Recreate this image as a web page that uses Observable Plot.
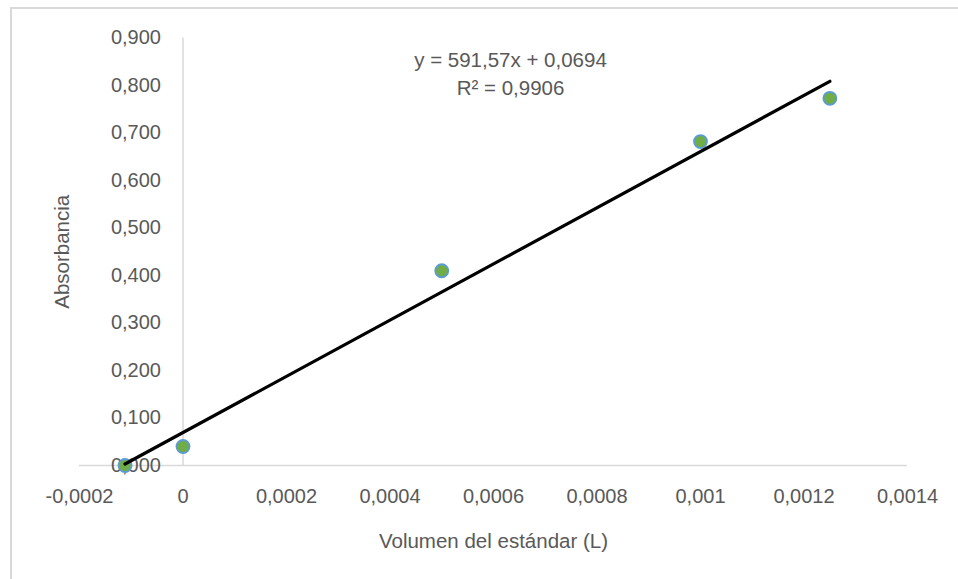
<!DOCTYPE html>
<html>
<head>
<meta charset="utf-8">
<script src="https://cdn.jsdelivr.net/npm/d3@7"></script>
<script src="https://cdn.jsdelivr.net/npm/@observablehq/plot@0.6"></script>
<style>
  html, body { margin: 0; padding: 0; background: #fff; }
  #wrap { position: relative; width: 958px; height: 579px; overflow: hidden; }
  #border { position: absolute; left: 10px; top: 7px; width: 960px; height: 600px;
            border-top: 2px solid #d9d9d9; border-left: 2px solid #d9d9d9; box-sizing: border-box; pointer-events: none; }
  svg { display: block; }
</style>
</head>
<body>
<div id="wrap"><div id="border"></div></div>
<script>
// Data
const volumen = [-0.000112, 0, 0.0005, 0.001, 0.00125];
const absorbancia = [0.000, 0.040, 0.410, 0.682, 0.773];
const slope = 591.57;
const intercept = 0.0694;
const equationLines = ["y = 591,57x + 0,0694", "R² = 0,9906"];
const xTicks = [-0.0002, 0, 0.0002, 0.0004, 0.0006, 0.0008, 0.001, 0.0012, 0.0014];
const xTickLabels = ["-0,0002", "0", "0,0002", "0,0004", "0,0006", "0,0008", "0,001", "0,0012", "0,0014"];
const yTicks = [0, 0.1, 0.2, 0.3, 0.4, 0.5, 0.6, 0.7, 0.8, 0.9];
const yTickLabels = ["0,000", "0,100", "0,200", "0,300", "0,400", "0,500", "0,600", "0,700", "0,800", "0,900"];
const xTitle = "Volumen del estándar (L)";
const yTitle = "Absorbancia";

const points = volumen.map((v, i) => ({x: v, y: absorbancia[i]}));
const xMin = d3.min(volumen), xMax = d3.max(volumen);
const trend = [xMin, xMax].map(x => ({x, y: slope * x + intercept}));
const xLabelMap = new Map(xTicks.map((t, i) => [t, xTickLabels[i]]));

const font = "'Liberation Sans', Arial, sans-serif";
const textColor = "#595959";
const axisColor = "#d9d9d9";

const chart = Plot.plot({
  width: 958,
  height: 579,
  marginLeft: 79,
  marginRight: 51,
  marginTop: 37.5,
  marginBottom: 114,
  style: {fontFamily: font, background: "transparent", overflow: "visible"},
  x: {domain: [-0.0002, 0.0014], axis: null},
  y: {domain: [0, 0.9], axis: null},
  marks: [
    Plot.ruleX([0], {y1: 0, y2: 0.9, stroke: axisColor, strokeWidth: 1.5}),
    Plot.ruleY([0], {stroke: axisColor, strokeWidth: 1.5}),
    Plot.axisX(xTicks, {
      tickSize: 0, tickPadding: 0, dy: 23, fontSize: 20, fill: textColor,
      tickFormat: d => xLabelMap.get(d), label: null
    }),
    Plot.text(yTicks, {
      x: () => 0, y: d => d, text: (d, i) => yTickLabels[i],
      textAnchor: "end", dx: -22, fontSize: 20, fill: textColor
    }),
    Plot.dot(points, {x: "x", y: "y", r: 6.5, fill: "#70AD47", stroke: "#5B9BD5", strokeWidth: 1.8}),
    Plot.line(trend, {x: "x", y: "y", stroke: "#000", strokeWidth: 3.2}),
    Plot.text([equationLines[0]], {frameAnchor: "top", textAnchor: "middle", lineAnchor: "middle", dx: 17, dy: 22.5, text: d => d, fontSize: 20.5, fill: textColor}),
    Plot.text([equationLines[1]], {frameAnchor: "top", textAnchor: "middle", lineAnchor: "middle", dx: 17, dy: 50.5, text: d => d, fontSize: 20.5, fill: textColor}),
    Plot.text([xTitle], {frameAnchor: "bottom", textAnchor: "middle", lineAnchor: "middle", dy: 76, text: d => d, fontSize: 20.5, fill: textColor}),
    Plot.text([yTitle], {frameAnchor: "left", textAnchor: "middle", lineAnchor: "middle", dx: -17, rotate: -90, text: d => d, fontSize: 20.5, fill: textColor})
  ]
});
document.getElementById("wrap").insertBefore(chart, document.getElementById("border"));
</script>
</body>
</html>
